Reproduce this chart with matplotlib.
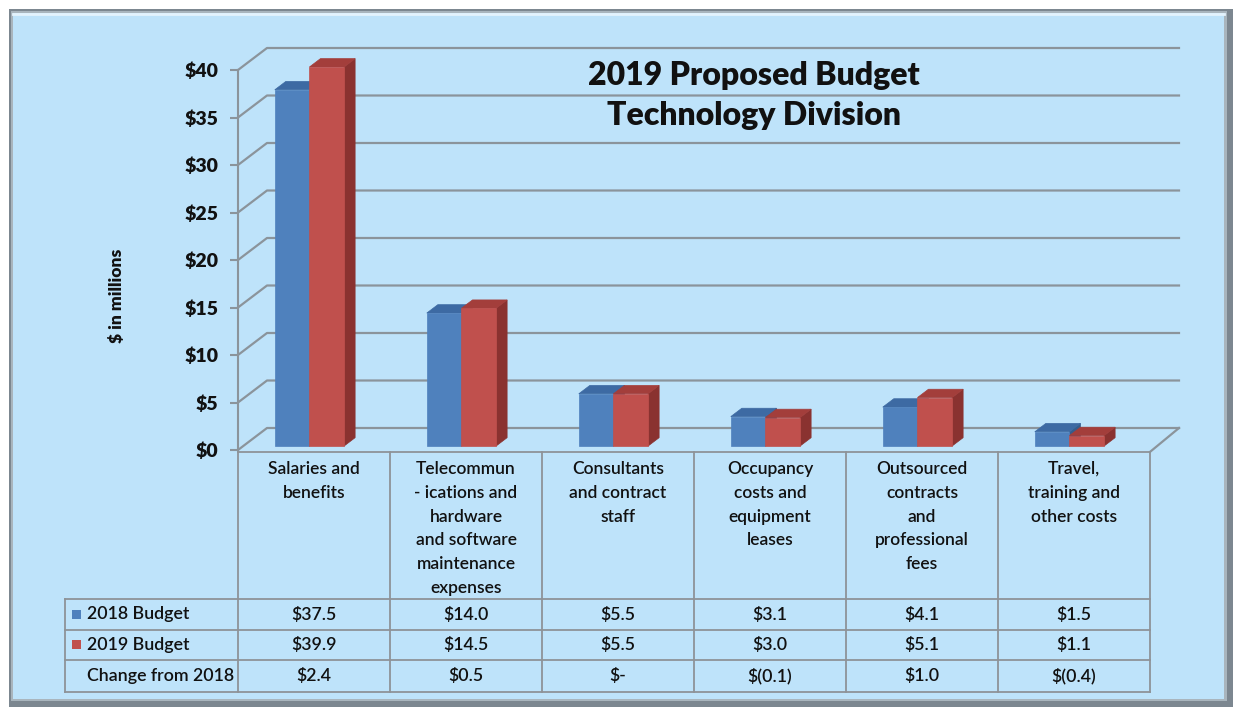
import numpy as np
import matplotlib
matplotlib.use("Agg")
import matplotlib.pyplot as plt
from matplotlib.patches import Polygon, Rectangle

plt.rcParams['font.family'] = ['Lato', 'DejaVu Sans']

# ---- data ----
categories = ["Salaries and\nbenefits",
              "Telecommun\n- ications and\nhardware\nand software\nmaintenance\nexpenses",
              "Consultants\nand contract\nstaff",
              "Occupancy\ncosts and\nequipment\nleases",
              "Outsourced\ncontracts\nand\nprofessional\nfees",
              "Travel,\ntraining and\nother costs"]
series_names = ["2018 Budget", "2019 Budget"]
budget_2018 = [37.5, 14.0, 5.5, 3.1, 4.1, 1.5]
budget_2019 = [39.9, 14.5, 5.5, 3.0, 5.1, 1.1]
change_from_2018 = [2.4, 0.5, 0.0, -0.1, 1.0, -0.4]
y_ticks = [0, 5, 10, 15, 20, 25, 30, 35, 40]

# colours: front, top, side
blue = ('#4f81bd', '#3d6aa3', '#355d8c')
red = ('#c0504d', '#a33e3b', '#8a3230')
grid_c = '#8b949b'
line_c = '#8e9398'
panel_c = '#bee3fa'
txt_c = '#111111'


def money(v):
    if abs(v) < 1e-9:
        return "$-"
    if v < 0:
        return f"$({abs(v):.1f})"
    return f"${v:.1f}"


W, H = 1236, 712
fig = plt.figure(figsize=(W / 100, H / 100), dpi=100)

# background axes in pixel coordinates (panel, titles, table)
bg = fig.add_axes([0, 0, 1, 1])
bg.set_xlim(0, W)
bg.set_ylim(H, 0)
bg.axis('off')
bg.add_patch(Rectangle((9, 9), 1224, 698, facecolor='#7c8790', edgecolor='none'))
bg.add_patch(Rectangle((11, 11), 1216, 690, facecolor='#a9b5bd', edgecolor='none'))
bg.add_patch(Rectangle((13, 13), 1211, 686, facecolor=panel_c, edgecolor='none'))
bg.plot([13, 1224], [14, 14], color='#e4f3fd', lw=2)

# chart axes: front axis at x=-0.5, table columns one unit wide
X0, X1 = 238, 1150
Y0, Y40 = 450, 70
ax = fig.add_axes([X0 / W, 1 - Y0 / H, (X1 - X0) / W, (Y0 - Y40) / H])
ax.set_xlim(-0.5, 5.5)
ax.set_ylim(0, 40)
ax.patch.set_visible(False)
for s in ['top', 'right', 'bottom']:
    ax.spines[s].set_visible(False)
ax.spines['left'].set_color(grid_c)
ax.spines['left'].set_linewidth(1.5)
ax.set_xticks([])
ax.set_yticks(y_ticks)
ax.set_yticklabels([f"${t}" for t in y_ticks], fontsize=14, fontweight='heavy', color=txt_c)
ax.tick_params(axis='y', length=6, width=1.5, color=grid_c, pad=8)

# depth of the 3d box
DX = 29 / 152
DY = 22 / 9.5
for t in y_ticks:
    ax.plot([-0.5, -0.5 + DX, 5.5 + DX], [t, t + DY, t + DY],
            color=grid_c, lw=1.6, clip_on=False, zorder=1)
ax.plot([5.5, 5.5 + DX], [-0.2, DY], color=grid_c, lw=1.6, clip_on=False, zorder=1)

# 3d bars
w = 0.228
f_front, f_back = 0.18, 0.56
ddx, ddy = (f_back - f_front) * DX, (f_back - f_front) * DY
base = f_front * DY
for i in range(len(categories)):
    for s, (vals, cols) in enumerate([(budget_2018, blue), (budget_2019, red)]):
        x0 = i - 0.03 - w + s * w
        top = base + vals[i]
        front = [(x0, base), (x0 + w, base), (x0 + w, top), (x0, top)]
        lid = [(x0, top), (x0 + w, top), (x0 + w + ddx, top + ddy), (x0 + ddx, top + ddy)]
        side = [(x0 + w, base), (x0 + w + ddx, base + ddy), (x0 + w + ddx, top + ddy), (x0 + w, top)]
        for pts, c in [(side, cols[2]), (lid, cols[1]), (front, cols[0])]:
            ax.add_patch(Polygon(pts, closed=True, facecolor=c, edgecolor=c,
                                 lw=0.5, clip_on=False, zorder=3))

# title and axis label
bg.text(754, 76, "2019 Proposed Budget", ha='center', va='center',
        fontsize=23, fontweight='heavy', color=txt_c)
bg.text(754, 116, "Technology Division", ha='center', va='center',
        fontsize=23, fontweight='heavy', color=txt_c)
bg.text(117, 296, "$ in millions", ha='center', va='center', rotation=90,
        fontsize=12.5, fontweight='heavy', color=txt_c)

# data table
col_w = (X1 - X0) / len(categories)
xs = [X0 + col_w * k for k in range(len(categories) + 1)]
rows = [599, 630, 660, 692]
T_TOP, LAB_L = 452, 65
lw_t = 1.3
bg.plot([X0, X1], [T_TOP, T_TOP], color=line_c, lw=lw_t)
for r in rows:
    bg.plot([LAB_L, X1], [r, r], color=line_c, lw=lw_t)
for x in xs:
    bg.plot([x, x], [T_TOP, rows[-1]], color=line_c, lw=lw_t)
bg.plot([LAB_L, LAB_L], [rows[0], rows[-1]], color=line_c, lw=lw_t)

for i, lab in enumerate(categories):
    cx = X0 + col_w * (i + 0.5)
    bg.text(cx, 461, lab, ha='center', va='top', fontsize=12.5,
            linespacing=1.6, color=txt_c, fontweight='semibold')

row_vals = [budget_2018, budget_2019, change_from_2018]
row_labels = series_names + ["Change from 2018"]
row_marks = [blue[0], red[0], None]
for r in range(3):
    cy = (rows[r] + rows[r + 1]) / 2
    if row_marks[r]:
        bg.add_patch(Rectangle((72, cy - 5), 9, 9, facecolor=row_marks[r], edgecolor='none'))
    bg.text(87, cy, row_labels[r], ha='left', va='center', fontsize=12.8,
            color=txt_c, fontweight='semibold')
    for i, v in enumerate(row_vals[r]):
        cx = X0 + col_w * (i + 0.5)
        bg.text(cx, cy, money(v), ha='center', va='center', fontsize=12.8,
                color=txt_c, fontweight='semibold')

fig.savefig("out.png", dpi=100)
